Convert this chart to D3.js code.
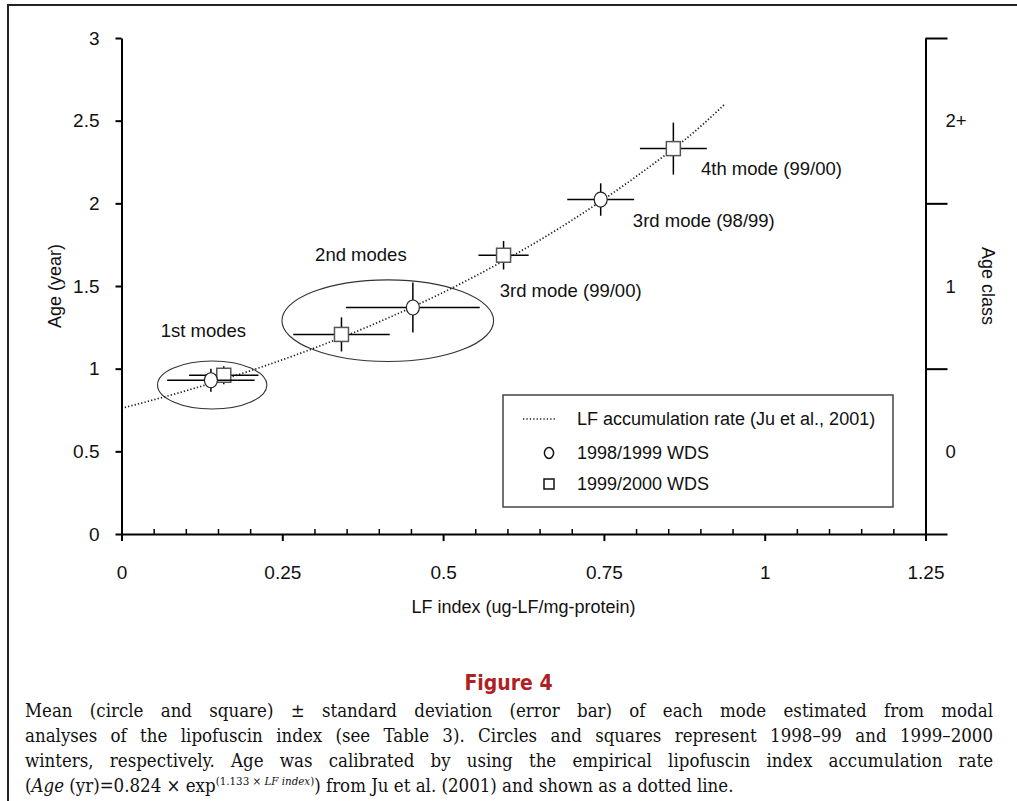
<!DOCTYPE html>
<html>
<head>
<meta charset="utf-8">
<script src="https://cdn.jsdelivr.net/npm/d3@7"></script>
<style>
  body { margin: 0; background: #fff; }
  svg { display: block; }
</style>
</head>
<body>
<div id="chart"></div>
<script>
// ---- values ----
const xTickValues = [0, 0.25, 0.5, 0.75, 1, 1.25];
const xTickLabels = ["0", "0.25", "0.5", "0.75", "1", "1.25"];
const yTickValues = [0, 0.5, 1, 1.5, 2, 2.5, 3];
const yTickLabels = ["0", "0.5", "1", "1.5", "2", "2.5", "3"];

const ageClassBreaks = [0, 1, 2, 3];
const ageClassCenters = [0.5, 1.5, 2.5];
const ageClassLabels = ["0", "1", "2+"];

// 1998/1999 WDS (circles)
const wds9899LF = [0.139, 0.453, 0.745];
const wds9899Age = [0.93, 1.37, 2.023];
const wds9899LFsd = [0.068, 0.104, 0.052];
const wds9899AgeSd = [0.07, 0.151, 0.098];

// 1999/2000 WDS (squares)
const wds9900LF = [0.159, 0.342, 0.594, 0.858];
const wds9900Age = [0.96, 1.207, 1.686, 2.331];
const wds9900LFsd = [0.054, 0.075, 0.039, 0.052];
const wds9900AgeSd = [0.055, 0.103, 0.086, 0.157];

// dotted accumulation-rate line
const rateLF = [0, 0.1, 0.2, 0.3, 0.4, 0.5, 0.6, 0.7, 0.8, 0.9, 0.938];
const rateAge = [0.76, 0.866, 0.987, 1.125, 1.282, 1.461, 1.665, 1.897, 2.162, 2.464, 2.6];

// mode groupings (ellipses): centre and half-widths in data units
const groupCx = [0.141, 0.414];
const groupCy = [0.901, 1.29];
const groupRx = [0.085, 0.1645];
const groupRy = [0.145, 0.247];

const modeLabels = ["1st modes", "2nd modes", "3rd mode (99/00)", "3rd mode (98/99)", "4th mode (99/00)"];
const modeLabelLF = [0.061, 0.301, 0.588, 0.795, 0.901];
const modeLabelAge = [1.234, 1.694, 1.476, 1.899, 2.214];

const legendLabels = ["LF accumulation rate (Ju et al., 2001)", "1998/1999 WDS", "1999/2000 WDS"];

const captionLines = [
  "Mean (circle and square) ± standard deviation (error bar) of each mode estimated from modal",
  "analyses of the lipofuscin index (see Table 3). Circles and squares represent 1998–99 and 1999–2000",
  "winters, respectively. Age was calibrated by using the empirical lipofuscin index accumulation rate"
];

// ---- layout ----
const width = 1017, height = 801;
const sans = "'Liberation Sans', Arial, Helvetica, sans-serif";
const serif = "'DejaVu Serif Condensed', 'DejaVu Serif', 'Liberation Serif', serif";

const svg = d3.select("#chart").append("svg")
  .attr("width", width)
  .attr("height", height)
  .style("background", "#fff");

const x = d3.scaleLinear().domain([0, 1.25]).range([121.5, 925.5]);
const y = d3.scaleLinear().domain([0, 3]).range([534, 38]);

// outer frame (top and left edges only are visible)
svg.append("path")
  .attr("d", `M8,${height} V5 H${width}`)
  .attr("fill", "none")
  .attr("stroke", "#222")
  .attr("stroke-width", 2);

// grouping ellipses
svg.append("g").selectAll("ellipse")
  .data(d3.range(groupCx.length))
  .join("ellipse")
  .attr("cx", i => x(groupCx[i]))
  .attr("cy", i => y(groupCy[i]))
  .attr("rx", i => x(groupRx[i]) - x(0))
  .attr("ry", i => y(0) - y(groupRy[i]))
  .attr("fill", "none")
  .attr("stroke", "#333")
  .attr("stroke-width", 1.1);

// dotted accumulation-rate curve
const line = d3.line()
  .x(i => x(rateLF[i]))
  .y(i => y(rateAge[i]))
  .curve(d3.curveMonotoneX);

svg.append("path")
  .datum(d3.range(rateLF.length))
  .attr("d", line)
  .attr("fill", "none")
  .attr("stroke", "#222")
  .attr("stroke-width", 1.7)
  .attr("stroke-dasharray", "1.3 2.1");

// error bars + markers
function drawSeries(lf, age, lfSd, ageSd, shape) {
  const g = svg.append("g");
  const idx = d3.range(lf.length);
  g.selectAll(".hbar").data(idx).join("line")
    .attr("class", "hbar")
    .attr("x1", i => x(lf[i] - lfSd[i]))
    .attr("x2", i => x(lf[i] + lfSd[i]))
    .attr("y1", i => y(age[i]))
    .attr("y2", i => y(age[i]))
    .attr("stroke", "#000")
    .attr("stroke-width", 1.5);
  g.selectAll(".vbar").data(idx).join("line")
    .attr("class", "vbar")
    .attr("x1", i => x(lf[i]))
    .attr("x2", i => x(lf[i]))
    .attr("y1", i => y(age[i] - ageSd[i]))
    .attr("y2", i => y(age[i] + ageSd[i]))
    .attr("stroke", "#000")
    .attr("stroke-width", 1.5);
  if (shape === "circle") {
    g.selectAll(".mark").data(idx).join("ellipse")
      .attr("class", "mark")
      .attr("cx", i => x(lf[i]))
      .attr("cy", i => y(age[i]))
      .attr("rx", 6.5)
      .attr("ry", 7.5)
      .attr("fill", "#fff")
      .attr("stroke", "#222")
      .attr("stroke-width", 1.2);
  } else {
    g.selectAll(".mark").data(idx).join("rect")
      .attr("class", "mark")
      .attr("x", i => x(lf[i]) - 7)
      .attr("y", i => y(age[i]) - 7)
      .attr("width", 14)
      .attr("height", 14)
      .attr("fill", "#fff")
      .attr("stroke", "#555")
      .attr("stroke-width", 1.5);
  }
}
drawSeries(wds9900LF, wds9900Age, wds9900LFsd, wds9900AgeSd, "square");
drawSeries(wds9899LF, wds9899Age, wds9899LFsd, wds9899AgeSd, "circle");

// ---- axes ----
function styleAxis(g, size) {
  g.attr("font-family", sans).attr("font-size", size);
  g.selectAll("path, line").attr("stroke", "#000").attr("stroke-width", 2);
  g.selectAll("text").attr("fill", "#111");
}

const yAxis = svg.append("g")
  .attr("transform", `translate(${x(0)},0)`)
  .call(d3.axisLeft(y)
    .tickValues(yTickValues)
    .tickFormat((d, i) => yTickLabels[i])
    .tickSizeInner(6)
    .tickSizeOuter(0)
    .tickPadding(16));
styleAxis(yAxis, 19);

const xAxis = svg.append("g")
  .attr("transform", `translate(0,${y(0)})`)
  .call(d3.axisBottom(x)
    .tickValues(xTickValues)
    .tickFormat((d, i) => xTickLabels[i])
    .tickSizeInner(7)
    .tickSizeOuter(0)
    .tickPadding(25));
styleAxis(xAxis, 19);

// minor ticks every 0.05, pointing up
const minorTicks = d3.range(1, 25).map(k => k * 0.05).filter(v => Math.abs(v / 0.25 - Math.round(v / 0.25)) > 1e-6);
const xMinor = svg.append("g")
  .attr("transform", `translate(0,${y(0)})`)
  .call(d3.axisTop(x).tickValues(minorTicks).tickFormat("").tickSize(5).tickSizeOuter(0));
xMinor.select(".domain").remove();
styleAxis(xMinor, 10);
xMinor.selectAll("line").attr("stroke-width", 1.5);

// right axis: age class
const rAxis = svg.append("g")
  .attr("transform", `translate(${x(1.25)},0)`)
  .call(d3.axisRight(y).tickValues(ageClassBreaks).tickFormat("").tickSize(22).tickSizeOuter(0));
styleAxis(rAxis, 10);

svg.append("g").selectAll("text")
  .data(ageClassCenters)
  .join("text")
  .attr("x", x(1.25) + 20)
  .attr("y", d => y(d))
  .attr("dy", "0.36em")
  .attr("font-family", sans)
  .attr("font-size", 18.5)
  .attr("fill", "#111")
  .text((d, i) => ageClassLabels[i]);

// axis titles
svg.append("text")
  .attr("x", (x(0) + x(1.25)) / 2)
  .attr("y", 613)
  .attr("text-anchor", "middle")
  .attr("font-family", sans)
  .attr("font-size", 18)
  .attr("fill", "#111")
  .text("LF index (ug-LF/mg-protein)");

svg.append("text")
  .attr("transform", `translate(61,${(y(0) + y(3)) / 2}) rotate(-90)`)
  .attr("text-anchor", "middle")
  .attr("font-family", sans)
  .attr("font-size", 18)
  .attr("fill", "#111")
  .text("Age (year)");

svg.append("text")
  .attr("transform", `translate(982,${(y(0) + y(3)) / 2}) rotate(90)`)
  .attr("text-anchor", "middle")
  .attr("font-family", sans)
  .attr("font-size", 18)
  .attr("fill", "#111")
  .text("Age class");

// mode annotations
svg.append("g").selectAll("text")
  .data(modeLabels)
  .join("text")
  .attr("x", (d, i) => x(modeLabelLF[i]))
  .attr("y", (d, i) => y(modeLabelAge[i]))
  .attr("dy", "0.36em")
  .attr("font-family", sans)
  .attr("font-size", 18.5)
  .attr("fill", "#111")
  .text(d => d);

// ---- legend ----
const legend = svg.append("g").attr("transform", "translate(503,395)");
legend.append("rect")
  .attr("width", 390)
  .attr("height", 112)
  .attr("fill", "#fff")
  .attr("stroke", "#444")
  .attr("stroke-width", 1.5);

const rowY = [24, 58, 89];
legend.append("line")
  .attr("x1", 20).attr("x2", 54)
  .attr("y1", rowY[0]).attr("y2", rowY[0])
  .attr("stroke", "#222")
  .attr("stroke-width", 1.6)
  .attr("stroke-dasharray", "1.3 2.1");
legend.append("ellipse")
  .attr("cx", 46).attr("cy", rowY[1])
  .attr("rx", 4.6).attr("ry", 5.4)
  .attr("fill", "#fff").attr("stroke", "#111").attr("stroke-width", 1.5);
legend.append("rect")
  .attr("x", 41).attr("y", rowY[2] - 5)
  .attr("width", 10).attr("height", 10)
  .attr("fill", "#fff").attr("stroke", "#111").attr("stroke-width", 1.5);
legend.selectAll(".lab")
  .data(legendLabels)
  .join("text")
  .attr("class", "lab")
  .attr("x", 74)
  .attr("y", (d, i) => rowY[i])
  .attr("dy", "0.36em")
  .attr("font-family", sans)
  .attr("font-size", 18)
  .attr("fill", "#111")
  .text(d => d);

// ---- caption ----
svg.append("text")
  .attr("x", width / 2)
  .attr("y", 690)
  .attr("text-anchor", "middle")
  .attr("font-family", "'Liberation Sans Narrow', 'DejaVu Sans Condensed', " + sans)
  .attr("font-weight", "bold")
  .attr("font-size", 21)
  .attr("fill", "#b01f24")
  .text("Figure 4");

const capLeft = 25, capRight = 993;
const capBase = [717, 742, 767, 792];
let capSize = 18.5;

const cap = svg.append("g")
  .attr("font-family", serif)
  .attr("font-stretch", "condensed")
  .attr("font-size", capSize)
  .attr("fill", "#111");

// measure natural width to keep every justified line inside the column
const probe = cap.append("text");
const natural = captionLines.map(t => { probe.text(t); return probe.node().getComputedTextLength(); });
probe.remove();
const maxNat = d3.max(natural);
if (maxNat > (capRight - capLeft) - 4) {
  capSize = capSize * ((capRight - capLeft) - 4) / maxNat;
  cap.attr("font-size", capSize);
}

captionLines.forEach((t, li) => {
  const words = t.split(" ");
  const nodes = words.map(w => cap.append("text").attr("y", capBase[li]).text(w));
  const ws = nodes.map(n => n.node().getComputedTextLength());
  const gap = ((capRight - capLeft) - d3.sum(ws)) / (words.length - 1);
  let cx = capLeft;
  nodes.forEach((n, i) => { n.attr("x", cx); cx += ws[i] + gap; });
});

const last = cap.append("text").attr("x", capLeft).attr("y", capBase[3]);
last.append("tspan").text("(");
last.append("tspan").attr("font-style", "italic").text("Age");
last.append("tspan").text(" (yr)=0.824 ×  exp");
last.append("tspan").attr("dy", -7).attr("font-size", capSize * 0.62).text("(1.133 × ");
last.append("tspan").attr("font-size", capSize * 0.62).attr("font-style", "italic").text("LF index");
last.append("tspan").attr("font-size", capSize * 0.62).text(")");
last.append("tspan").attr("dy", 7).text(") from Ju et al. (2001) and shown as a dotted line.");
</script>
</body>
</html>
